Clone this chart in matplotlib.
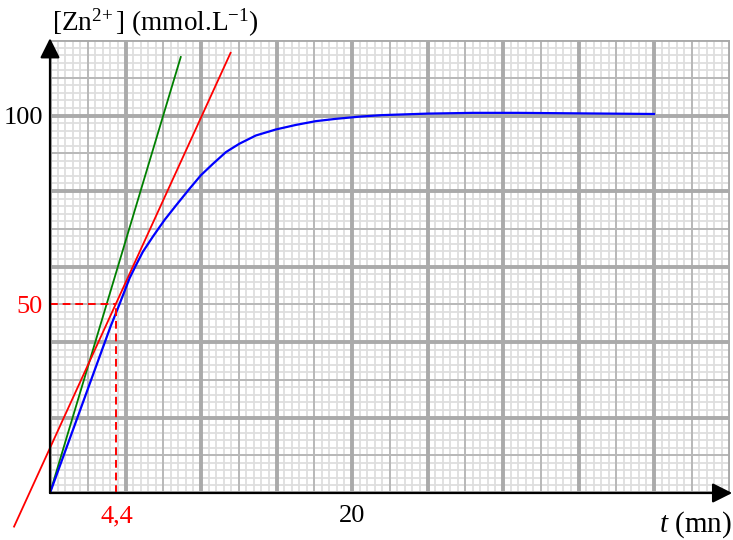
import numpy as np
import matplotlib.pyplot as plt

plt.rcParams['font.family'] = 'Liberation Serif'
plt.rcParams['mathtext.fontset'] = 'custom'
plt.rcParams['mathtext.rm'] = 'Liberation Serif'
plt.rcParams['mathtext.it'] = 'Liberation Serif:italic'

# courbe [Zn2+] = f(t)
t = [0, 1, 2, 3, 4, 4.6, 5.27, 5.7, 6.15, 6.81, 7.58, 8.35, 9.24, 10, 10.79,
     11.65, 12.53, 13.63, 14.96, 16.28, 17.6, 18.9, 20.5, 22, 25, 28, 31, 34,
     37, 40]
zn = [0, 11, 22, 33, 44, 50, 56.9, 60.4, 63.9, 67.9, 72.3, 76.2, 80.6, 84.2,
      87.2, 90.3, 92.5, 94.7, 96.3, 97.5, 98.5, 99.1, 99.7, 100.1, 100.5,
      100.7, 100.7, 100.6, 100.5, 100.4]

# tangente a l'origine (vert)
t_tan0 = [0, 8.66]
zn_tan0 = [0, 115.5]

# tangente au point t1/2 (rouge)
t_tan1 = [-2.38, 11.96]
zn_tan1 = [-8.9, 116.6]

t_half = 4.4
zn_half = 50

xticks = [4.4, 20]
xlabels = ['4,4', '20']
yticks = [50, 100]
ylabels = ['50', '100']

fig = plt.figure(figsize=(7.33, 5.4), dpi=100)
ax = fig.add_axes([50/733, 47/540, 679.5/733, 453/540])
ax.set_xlim(0, 45)
ax.set_ylim(0, 120)

# papier millimetre
ax.vlines(np.arange(0, 45.01, 0.5), 0, 120, color='#dedede', lw=1.3, zorder=0)
ax.hlines(np.arange(0, 120.01, 2), 0, 45, color='#dedede', lw=1.3, zorder=0)
ax.vlines(np.arange(2.5, 45, 5), 0, 120, color='#b8b8b8', lw=1.4, zorder=1)
ax.hlines(np.arange(10, 120, 20), 0, 45, color='#b8b8b8', lw=1.4, zorder=1)
ax.vlines(np.arange(0, 45.01, 5), 0, 120, color='#aaaaaa', lw=2.8, zorder=1)
ax.hlines(np.arange(0, 120.01, 20), 0, 45, color='#aaaaaa', lw=2.8, zorder=1)

ax.plot(t, zn, color='blue', lw=1.6, zorder=5)
ax.plot(t_tan0, zn_tan0, color='green', lw=1.3, zorder=4)
ax.plot(t_tan1, zn_tan1, color='red', lw=1.3, zorder=4, clip_on=False)
ax.plot([0, t_half], [zn_half, zn_half], color='red', lw=1.4, dashes=[4, 2.5], zorder=6)
ax.plot([t_half, t_half], [0, zn_half], color='red', lw=1.4, dashes=[4, 2.5], zorder=6)

for s in ax.spines.values():
    s.set_visible(False)

ax.annotate('', xy=(1.004, 0), xytext=(0, 0), xycoords='axes fraction',
            arrowprops=dict(arrowstyle='-|>', color='black', lw=1.6,
                            mutation_scale=30, shrinkA=0, shrinkB=0), zorder=7)
ax.annotate('', xy=(0, 1.004), xytext=(0, 0), xycoords='axes fraction',
            arrowprops=dict(arrowstyle='-|>', color='black', lw=1.6,
                            mutation_scale=30, shrinkA=0, shrinkB=0), zorder=7)

ax.set_xticks(xticks, xlabels, fontsize=19)
ax.set_yticks(yticks, ylabels, fontsize=19)
ax.tick_params(length=0)
ax.tick_params(axis='x', pad=9)
ax.tick_params(axis='y', pad=5)
ax.get_xticklabels()[0].set_color('red')
ax.get_yticklabels()[0].set_color('red')

fig.text(52/733, 1 - 31/540, '[Zn$^{2\\!+}$] (mmol.L$^{-1}$)',
         fontsize=19.6, va='baseline', ha='left')
fig.text(732/733, 8/540, '$t$ (mn)', fontsize=21, va='baseline', ha='right')

fig.savefig('out.png', dpi=100)
